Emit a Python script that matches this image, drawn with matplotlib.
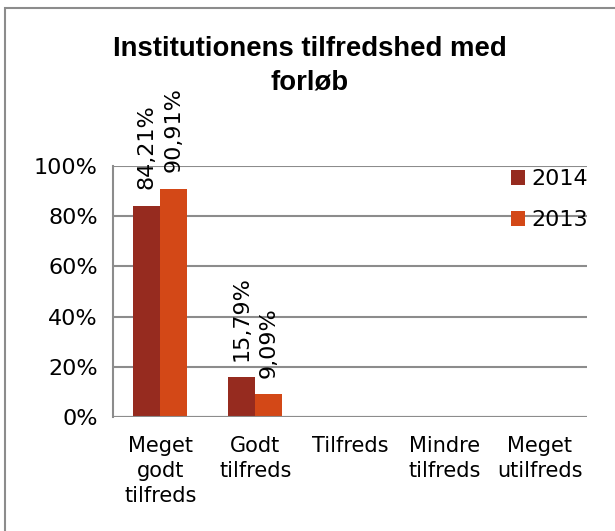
import numpy as np
import matplotlib.pyplot as plt
from matplotlib.patches import Rectangle

# data
categories = ['Meget\ngodt\ntilfreds', 'Godt\ntilfreds', 'Tilfreds', 'Mindre\ntilfreds', 'Meget\nutilfreds']
v2014 = [84.21, 15.79, 0, 0, 0]
v2013 = [90.91, 9.09, 0, 0, 0]
lab2014 = ['84,21%', '15,79%', '', '', '']
lab2013 = ['90,91%', '9,09%', '', '', '']
yticks = [0, 20, 40, 60, 80, 100]

c2014 = '#962B1F'
c2013 = '#D34817'
grey = '#8C8C8C'

plt.rcParams['font.family'] = ['DejaVu Sans']

fig = plt.figure(figsize=(6.15, 5.31), dpi=100)
ax = fig.add_axes([113/615, 1-417/531, (587-113)/615, (417-166)/531])

x = np.arange(len(categories))
w = 0.285
ax.bar(x - w/2, v2014, w, color=c2014, label='2014', zorder=3)
ax.bar(x + w/2, v2013, w, color=c2013, label='2013', zorder=3)

for i in range(len(categories)):
    if lab2014[i]:
        ax.annotate(lab2014[i], (x[i] - w/2, v2014[i]), xytext=(0, 12), textcoords='offset points',
                    rotation=90, ha='center', va='bottom', fontsize=16, annotation_clip=False)
    if lab2013[i]:
        ax.annotate(lab2013[i], (x[i] + w/2, v2013[i]), xytext=(0, 12), textcoords='offset points',
                    rotation=90, ha='center', va='bottom', fontsize=16, annotation_clip=False)

ax.set_xlim(-0.5, 4.5)
ax.set_ylim(0, 100)
ax.set_yticks(yticks)
ax.set_yticklabels([f'{t}%' for t in yticks], fontsize=16)
ax.set_xticks(x)
ax.set_xticklabels(categories, fontsize=15, linespacing=1.3)
ax.tick_params(axis='y', length=0, pad=11)
ax.tick_params(axis='x', length=0, pad=14)
ax.yaxis.grid(True, color=grey, linewidth=1.5, zorder=0)
for s in ['top', 'right', 'bottom']:
    ax.spines[s].set_visible(False)
ax.spines['left'].set_color(grey)
ax.spines['left'].set_linewidth(1.5)
ax.axhline(0, color=grey, linewidth=1.5, zorder=4)

title_font = ['Liberation Sans', 'DejaVu Sans']
fig.text(310/615, 1-56/531, 'Institutionens tilfredshed med', ha='center', va='baseline',
         fontsize=19.8, fontweight='bold', family=title_font)
fig.text(310/615, 1-89/531, 'forløb', ha='center', va='baseline',
         fontsize=19.8, fontweight='bold', family=title_font)

ax.legend(loc='upper left', bbox_to_anchor=(491/615, 1-149/531), bbox_transform=fig.transFigure,
          frameon=False, fontsize=16, handlelength=0.65, handleheight=0.65,
          handletextpad=0.25, labelspacing=0.95)

# outer border
fig.patches.append(Rectangle((5/615, -0.01), 1.0, 1-8/531 + 0.01, transform=fig.transFigure,
                             fill=False, edgecolor=grey, linewidth=1.5))

fig.savefig('out.png', dpi=100)
